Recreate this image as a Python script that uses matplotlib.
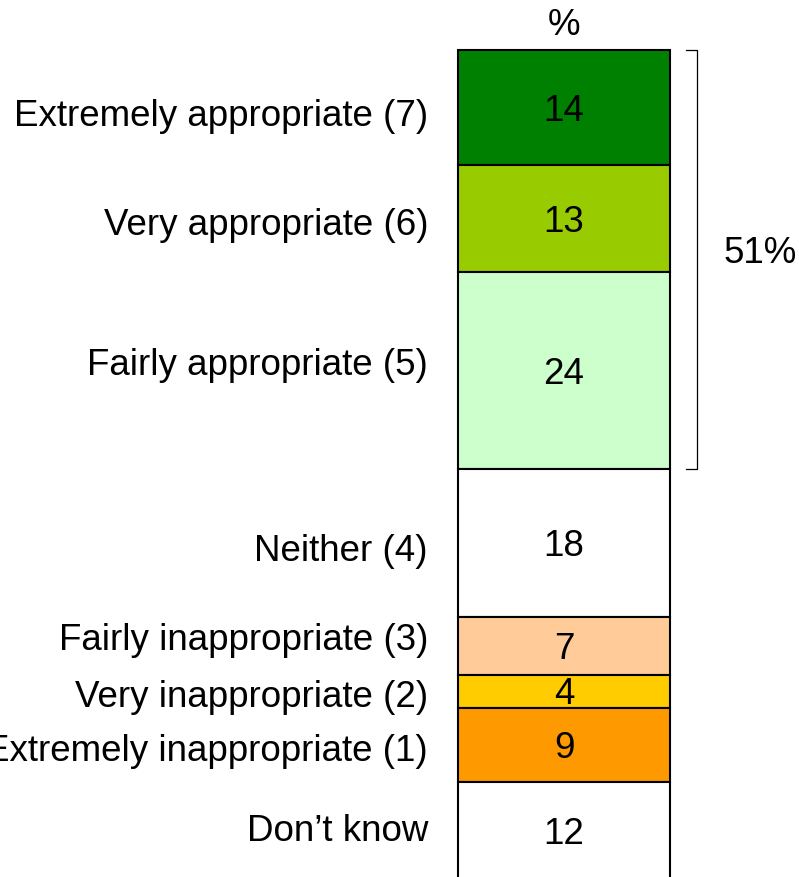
import matplotlib.pyplot as plt

plt.rcParams['font.family'] = ['Liberation Sans', 'DejaVu Sans']

# data
categories = ['Extremely appropriate (7)', 'Very appropriate (6)', 'Fairly appropriate (5)',
              'Neither (4)', 'Fairly inappropriate (3)', 'Very inappropriate (2)',
              'Extremely inappropriate (1)', 'Don\u2019t know']
values = [14, 13, 24, 18, 7, 4, 9, 12]
colors = ['#008000', '#99CC00', '#CCFFCC', '#FFFFFF', '#FFCC99', '#FFCC00', '#FF9900', '#FFFFFF']
net_label = '51%'
net_count = 3  # top three categories in the bracket

# small vertical nudges (px) of the category labels, as in the original
label_shift = [5, 3, -9, 5, -9, 3, 3, -3]

W, H = 799, 877
px_per_unit = 8.22
top_px = 50

fig = plt.figure(figsize=(W / 100, H / 100), dpi=100)
ax = fig.add_axes([0, 0, 1, 1])
ax.set_xlim(0, W)
ax.set_ylim((H - top_px) / px_per_unit, -top_px / px_per_unit)
ax.axis('off')

bar_x = 564
bar_w = 212
fs = 26.5
half_cap = fs * 100 / 72 * 0.716 / 2 / px_per_unit  # half cap height in data units

cum = 0
for cat, v, c, sh in zip(categories, values, colors, label_shift):
    ax.bar(bar_x, v, width=bar_w, bottom=cum, color=c, edgecolor='black', linewidth=1.5)
    mid = cum + v / 2
    ax.text(bar_x, mid + half_cap, str(v), ha='center', va='baseline', fontsize=fs)
    ax.text(428, mid + half_cap + sh / px_per_unit, cat, ha='right', va='baseline', fontsize=fs)
    cum += v

ax.text(bar_x, -28 / px_per_unit + half_cap, '%', ha='center', va='baseline', fontsize=fs)

# bracket for the top categories
net_end = sum(values[:net_count])
ax.plot([686, 697, 697, 686], [0, 0, net_end, net_end], color='black', linewidth=0.9)
ax.text(760, 200 / px_per_unit + half_cap, net_label, ha='center', va='baseline', fontsize=fs)

fig.savefig('out.png', dpi=100)
